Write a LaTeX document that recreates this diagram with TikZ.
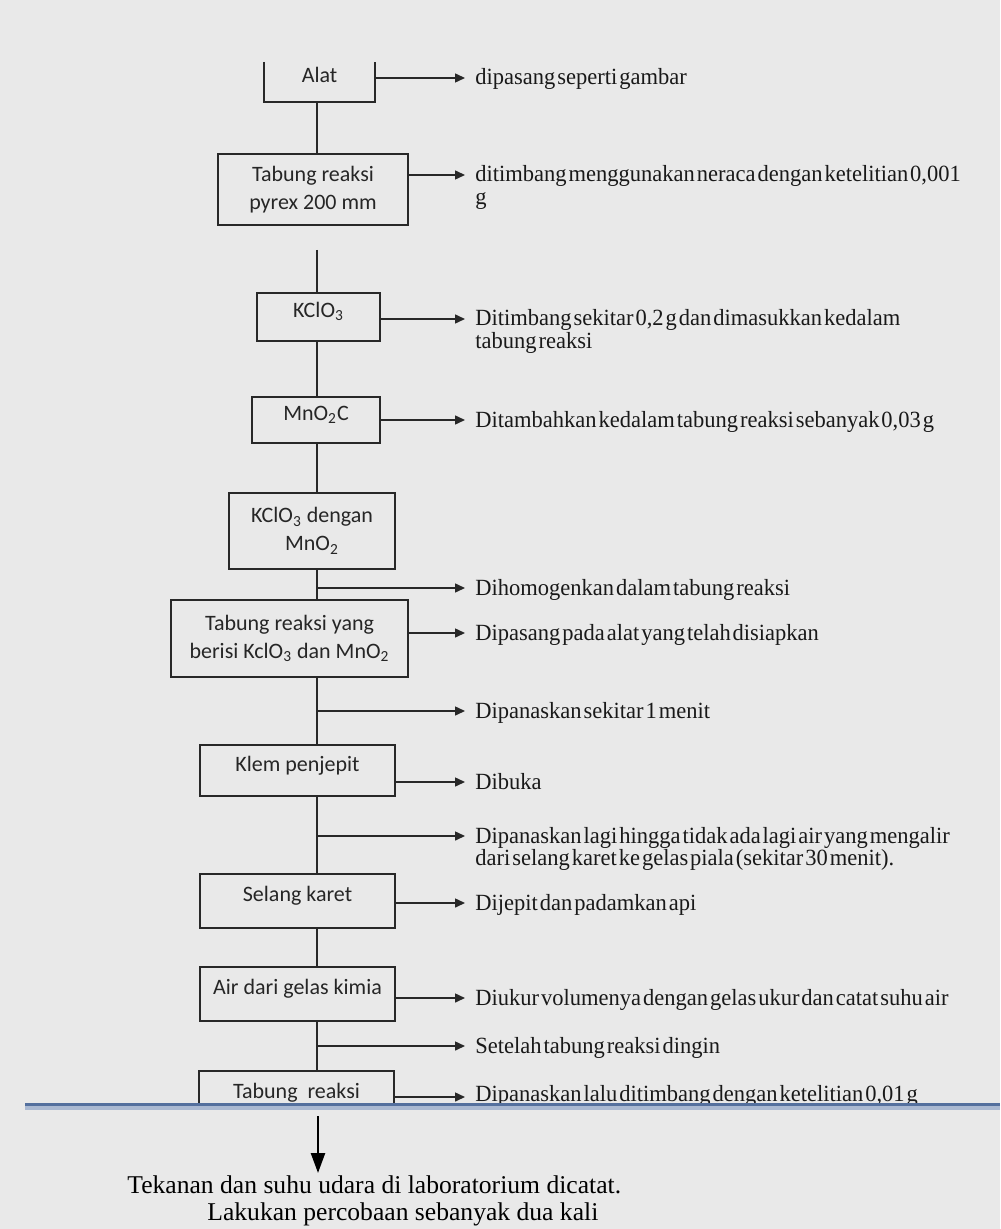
\documentclass[tikz,border=0pt]{standalone}
\usepackage{fontspec}
\setmainfont{Liberation Serif}
\newfontfamily\kotakfont{Carlito}
\newfontfamily\ketfont{Liberation Serif}[WordSpace=0.35, FakeStretch=0.97]
\usetikzlibrary{arrows.meta}
\definecolor{latar}{RGB}{233,233,233}
\definecolor{garis}{RGB}{40,40,40}
\definecolor{biru}{RGB}{84,112,158}
\definecolor{birumuda}{RGB}{170,185,210}
\newcommand{\duabaris}[2]{\begin{tabular}[t]{@{}l@{}}#1\\#2\end{tabular}}

\begin{document}
\begin{tikzpicture}[x=0.5pt, y=-0.5pt,
		kotak/.style={draw=garis, line width=1pt, align=center, inner sep=0pt, font=\kotakfont\fontsize{11}{14}\selectfont, text=black!85},
		atas/.style={text depth=7pt},
		ket/.style={anchor=base west, inner sep=0pt, font=\ketfont\fontsize{11.6}{11.2}\selectfont, text=black!90},
		panah/.style={draw=garis, line width=0.75pt, -{Triangle[length=5pt, width=4.5pt]}},
		sambung/.style={draw=garis, line width=1pt}]
		\useasboundingbox (0,0) rectangle (1000,1229);
		\fill[latar] (0,0) rectangle (1000,1229);
		% kotak-kotak
		\node[kotak, draw=none, atas, minimum width=54.5pt, minimum height=19pt] (alat) at (319.5,82) {Alat};
		\draw[sambung] (alat.north west) -- (alat.south west) -- (alat.south east) -- (alat.north east);
		\node[kotak, minimum width=95pt, minimum height=35.5pt] (pyrex) at (313,189.5) {Tabung reaksi\\pyrex 200 mm};
		\node[kotak, atas, minimum width=61.5pt, minimum height=24pt] (kclo) at (318.5,317) {KClO\textsubscript{3}};
		\node[kotak, atas, minimum width=64pt, minimum height=23pt] (mno) at (316,420) {MnO\textsubscript{2}C};
		\node[kotak, minimum width=83pt, minimum height=38pt] (campur) at (312,531) {KClO\textsubscript{3} dengan\\MnO\textsubscript{2}};
		\node[kotak, minimum width=118.5pt, minimum height=38.5pt] (berisi) at (289.5,638.5) {Tabung reaksi yang\\berisi KclO\textsubscript{3} dan MnO\textsubscript{2}};
		\node[kotak, atas, minimum width=97.5pt, minimum height=25.5pt] (klem) at (297.5,770.5) {Klem penjepit};
		\node[kotak, atas, minimum width=97.5pt, minimum height=27pt] (selang) at (297.5,901) {Selang karet};
		\node[kotak, atas, minimum width=97.5pt, minimum height=27pt] (air) at (297.5,994) {Air dari gelas kimia};
		\node[kotak, draw=none, text height=12pt, minimum width=96.5pt, minimum height=16pt] (tabung) at (296.5,1088) {Tabung\ \ reaksi};
		\draw[sambung] (tabung.south west) -- (tabung.north west) -- (tabung.north east) -- (tabung.south east);
		% garis tengah
		\coordinate (tulang) at (317,0);
		\coordinate (putus) at (317,250);
		\draw[sambung] (alat.south -| tulang) -- (pyrex.north -| tulang);
		\draw[sambung] (putus) -- (kclo.north -| tulang);
		\foreach \a/\b in {kclo/mno, mno/campur, campur/berisi, berisi/klem, klem/selang, selang/air, air/tabung}
			\draw[sambung] (\a.south -| tulang) -- (\b.north -| tulang);
		% panah keterangan
		\coordinate (u1) at (465,78);
		\coordinate (u2) at (465,175);
		\coordinate (u3) at (465,319);
		\coordinate (u4) at (465,420);
		\coordinate (u5) at (465,588);
		\coordinate (u6) at (465,633);
		\coordinate (u7) at (465,711);
		\coordinate (u8) at (465,782);
		\coordinate (u9) at (465,836);
		\coordinate (u10) at (465,903);
		\coordinate (u11) at (465,998);
		\coordinate (u12) at (465,1046);
		\coordinate (u13) at (465,1097);
		\draw[panah] (alat.east |- u1) -- (u1);
		\draw[panah] (pyrex.east |- u2) -- (u2);
		\draw[panah] (kclo.east |- u3) -- (u3);
		\draw[panah] (mno.east |- u4) -- (u4);
		\draw[panah] (tulang |- u5) -- (u5);
		\draw[panah] (berisi.east |- u6) -- (u6);
		\draw[panah] (tulang |- u7) -- (u7);
		\draw[panah] (klem.east |- u8) -- (u8);
		\draw[panah] (tulang |- u9) -- (u9);
		\draw[panah] (selang.east |- u10) -- (u10);
		\draw[panah] (air.east |- u11) -- (u11);
		\draw[panah] (tulang |- u12) -- (u12);
		\draw[panah] (tabung.east |- u13) -- (u13);
		\node[ket] (k1) at ([xshift=5pt, yshift=-3.5pt]u1) {dipasang seperti gambar};
		\node[ket] (k2) at ([xshift=5pt, yshift=-3.5pt]u2) {\duabaris{ditimbang menggunakan neraca dengan ketelitian 0,001}{g}};
		\node[ket] (k3) at ([xshift=5pt, yshift=-3.5pt]u3) {\duabaris{Ditimbang sekitar 0,2 g dan dimasukkan kedalam}{tabung reaksi}};
		\node[ket] (k4) at ([xshift=5pt, yshift=-3.5pt]u4) {Ditambahkan kedalam tabung reaksi sebanyak 0,03 g};
		\node[ket] (k5) at ([xshift=5pt, yshift=-3.5pt]u5) {Dihomogenkan dalam tabung reaksi};
		\node[ket] (k6) at ([xshift=5pt, yshift=-3.5pt]u6) {Dipasang pada alat yang telah disiapkan};
		\node[ket] (k7) at ([xshift=5pt, yshift=-3.5pt]u7) {Dipanaskan sekitar 1 menit};
		\node[ket] (k8) at ([xshift=5pt, yshift=-3.5pt]u8) {Dibuka};
		\node[ket] (k9) at ([xshift=5pt, yshift=-3.5pt]u9) {\duabaris{Dipanaskan lagi hingga tidak ada lagi air yang mengalir}{dari selang karet ke gelas piala (sekitar 30 menit).}};
		\node[ket] (k10) at ([xshift=5pt, yshift=-3.5pt]u10) {Dijepit dan padamkan api};
		\node[ket] (k11) at ([xshift=5pt, yshift=-3.5pt]u11) {Diukur volumenya dengan gelas ukur dan catat suhu air};
		\node[ket] (k12) at ([xshift=5pt, yshift=-3.5pt]u12) {Setelah tabung reaksi dingin};
		\node[ket] (k13) at ([xshift=5pt, yshift=-2pt]u13) {Dipanaskan lalu ditimbang dengan ketelitian 0,01 g};
		% garis biru
		\draw[birumuda, line width=2pt] (25,1108) -- (1000,1108);
		\draw[biru, line width=1.5pt] (25,1104.5) -- (1000,1104.5);
		% catatan akhir
		\coordinate (turunA) at (318,1116);
		\coordinate (turunB) at (318,1173);
		\draw[line width=1.2pt, -{Triangle[length=10pt, width=7pt]}] (turunA) -- (turunB);
		\node[anchor=base west, inner sep=0pt, font=\fontsize{12.8}{15}\selectfont] (catat) at (127,1193) {Tekanan dan suhu udara di laboratorium dicatat.};
		\node[anchor=base west, inner sep=0pt, font=\fontsize{12.8}{15}\selectfont] (ulang) at (207,1220) {Lakukan percobaan sebanyak dua kali};
	\end{tikzpicture}
\end{document}
